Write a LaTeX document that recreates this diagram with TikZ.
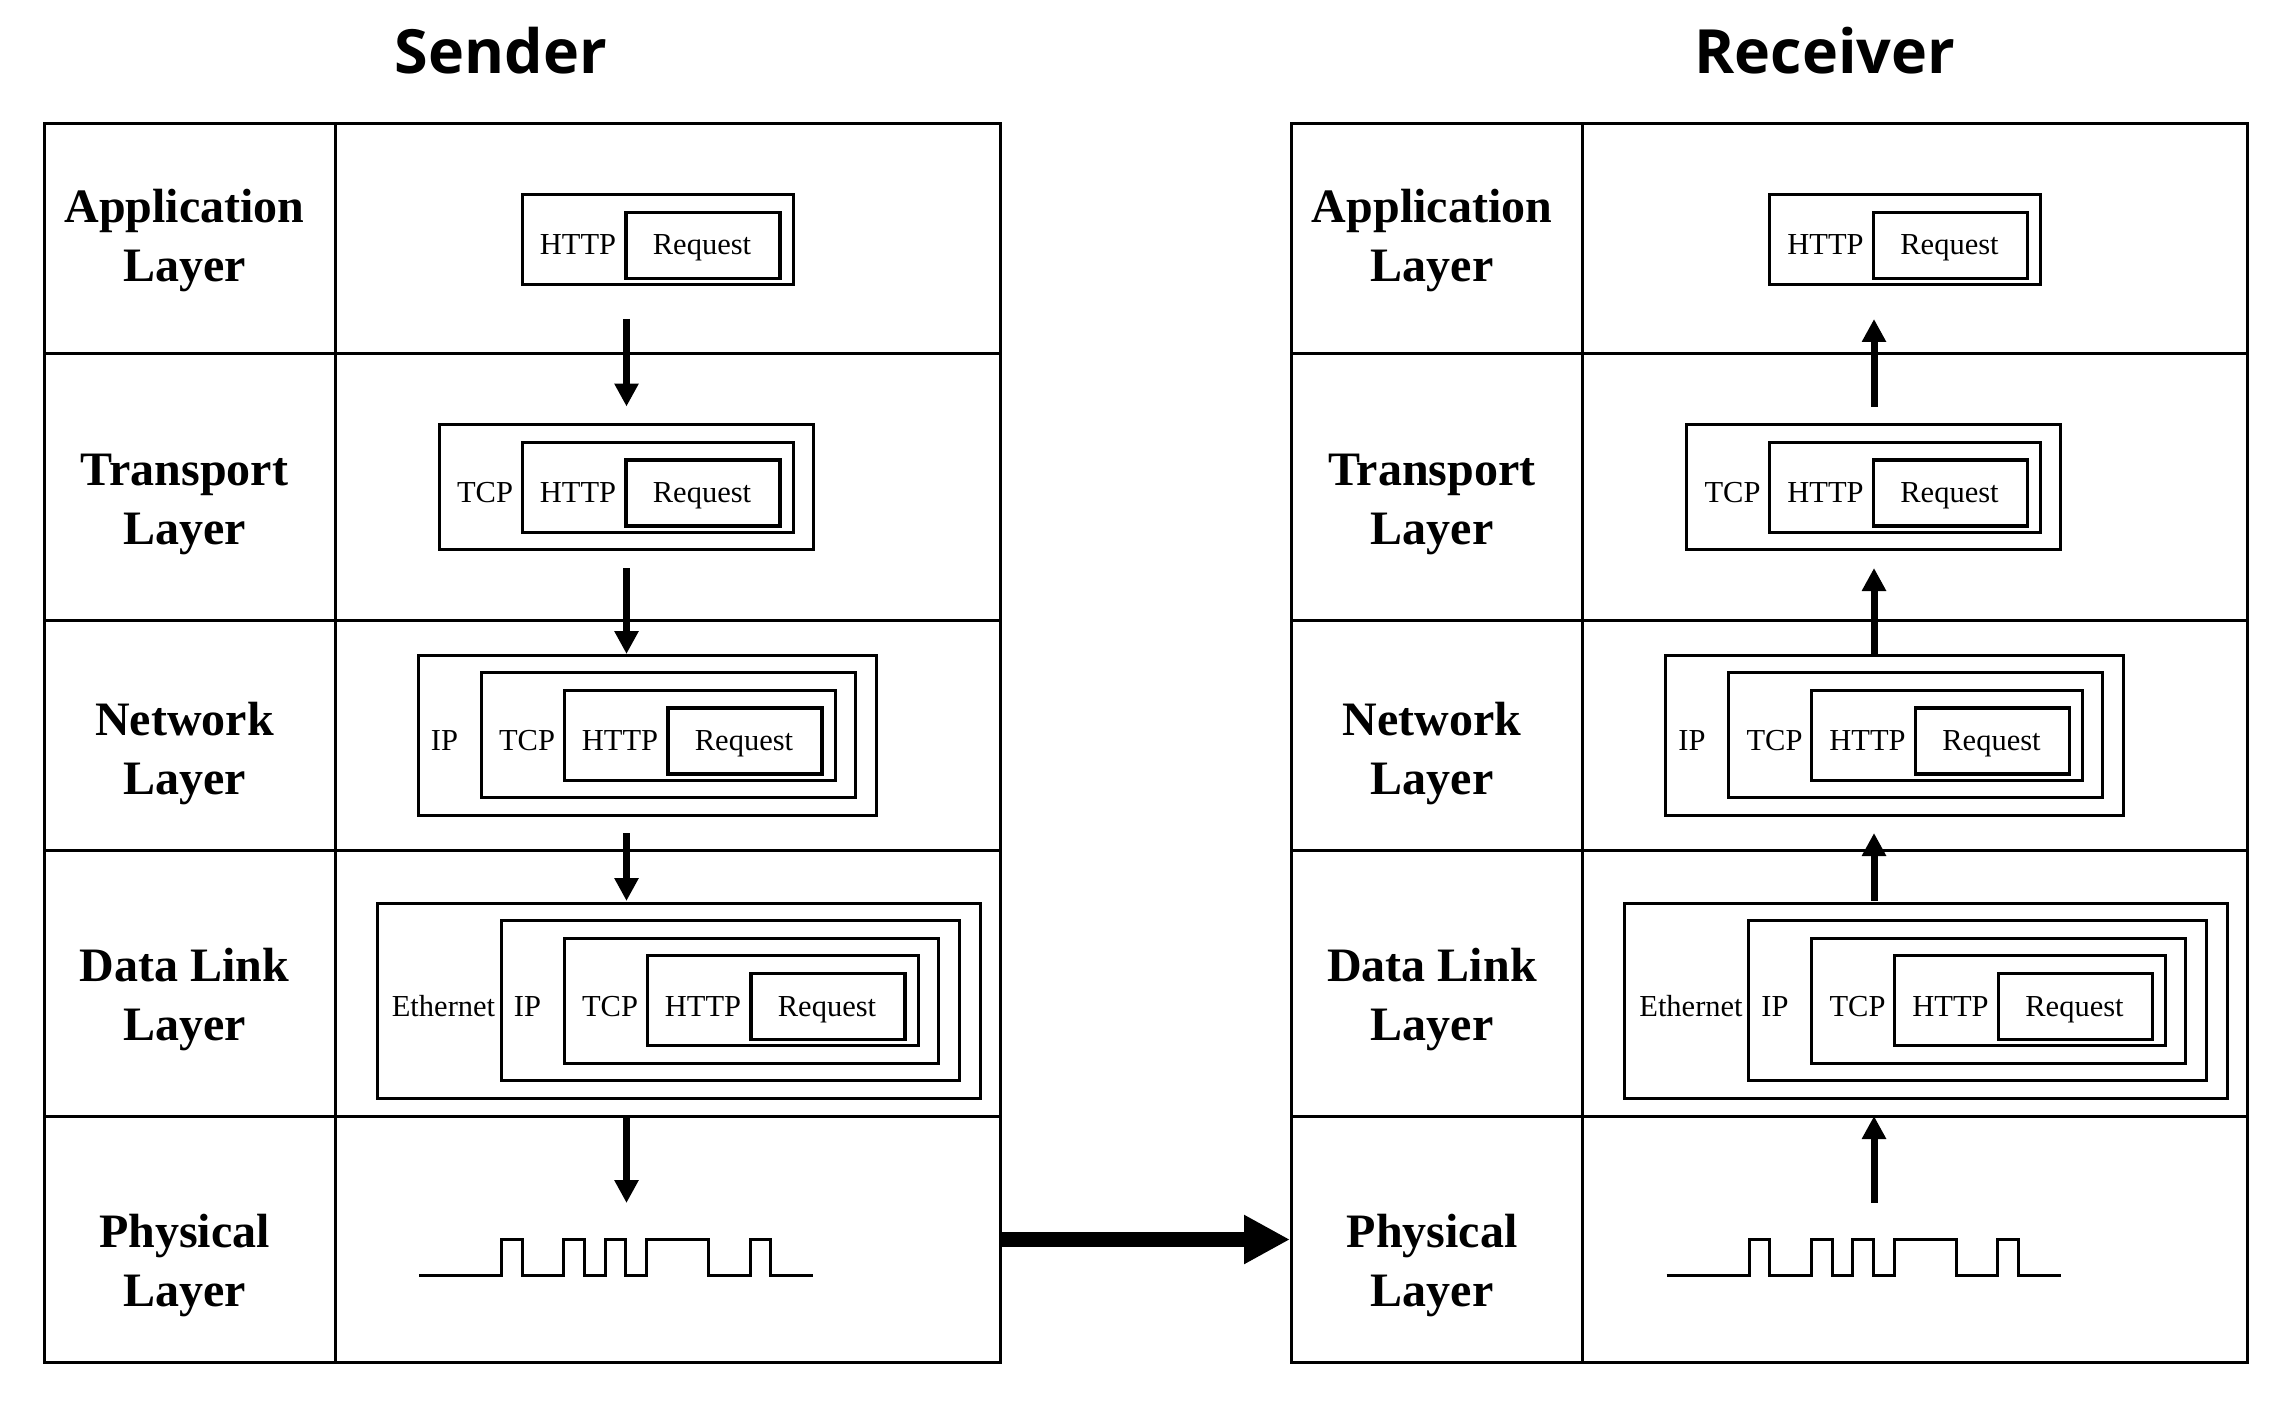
\documentclass[tikz,border=0pt]{standalone}
\usepackage{fontspec}
\setmainfont{Liberation Serif}
\newfontfamily\titlefont{Open Sans}
\usetikzlibrary{arrows.meta}

\tikzset{
  tbl/.style={line width=3pt},
  pbox/.style={draw, line width=3pt},
  rbox/.style={draw, line width=3.8pt},
  plabel/.style={font=\fontsize{30.5pt}{36pt}\selectfont, anchor=base, inner sep=0pt},
  llabel/.style={font=\fontsize{48pt}{59pt}\selectfont\bfseries, align=center, inner sep=0pt},
  ttl/.style={font=\titlefont\fontsize{61pt}{72pt}\selectfont\bfseries, anchor=base, inner sep=0pt},
  flowdown/.style={line width=7pt, -{Triangle[length=23pt,width=23pt]}},
  flowup/.style={line width=7pt, {Triangle[length=23pt,width=23pt]}-},
  bigflow/.style={line width=15.7pt, -{Triangle[length=46pt,width=46pt]}},
  wave/.style={line width=3pt},
}

% #1 = Request box left, #2 = row centre
\newcommand\httpbox[2]{%
  \draw[pbox] (#1-104,#2-45) rectangle (#1+167,#2+45);
  \draw[rbox] (#1,#2-27) rectangle (#1+154,#2+39);}
\newcommand\tcpbox[2]{\draw[pbox] (#1-187,#2-62.5) rectangle (#1+187,#2+62.5);}
\newcommand\ipbox[2]{\draw[pbox] (#1-250,#2-80) rectangle (#1+208,#2+80);}
\newcommand\ethbox[2]{\draw[pbox] (#1-374,#2-97.5) rectangle (#1+229,#2+97.5);}

% one side: #1 = arrow style, #2 = title x (local), #3 = title text
\newcommand\stackside[3]{%
  % title
  \node[ttl] (title) at (#2,73.5) {#3};
  % table
  \draw[tbl] (44,124) rectangle (1000,1362);
  \draw[tbl] (335,124) -- (335,1362);
  \foreach \yy in {354,620,850,1116} \draw[tbl] (44,\yy) -- (1000,\yy);
  % layer names
  \node[llabel] (app)  at (184.5,240.5)  {Application\\Layer};
  \node[llabel] (tra)  at (184.5,504.5)  {Transport\\Layer};
  \node[llabel] (net)  at (184.5,753.5) {Network\\Layer};
  \node[llabel] (dl)   at (184.5,999.5)  {Data Link\\Layer};
  \node[llabel] (phy)  at (184.5,1265.5) {Physical\\Layer};
  % application row
  \httpbox{626}{239.5}
  \node[plabel] (a-http) at (626-48,255) {HTTP};
  \node[plabel] (a-req)  at (626+76,255) {Request};
  % transport row
  \tcpbox{626}{487}\httpbox{626}{487}
  \node[plabel] (t-tcp)  at (626-141,502.5) {TCP};
  \node[plabel] (t-http) at (626-48,502.5) {HTTP};
  \node[plabel] (t-req)  at (626+76,502.5) {Request};
  % network row
  \ipbox{668}{735}\tcpbox{668}{735}\httpbox{668}{735}
  \node[plabel] (n-ip)   at (668-223.5,750.5) {IP};
  \node[plabel] (n-tcp)  at (668-141,750.5) {TCP};
  \node[plabel] (n-http) at (668-48,750.5) {HTTP};
  \node[plabel] (n-req)  at (668+76,750.5) {Request};
  % data link row
  \ethbox{751}{1000.5}\ipbox{751}{1000.5}\tcpbox{751}{1000.5}\httpbox{751}{1000.5}
  \node[plabel] (d-eth)  at (751-307.5,1016) {Ethernet};
  \node[plabel] (d-ip)   at (751-223.5,1016) {IP};
  \node[plabel] (d-tcp)  at (751-141,1016) {TCP};
  \node[plabel] (d-http) at (751-48,1016) {HTTP};
  \node[plabel] (d-req)  at (751+76,1016) {Request};
  % physical signal
  \draw[wave] (419,1275) -- (501.7,1275) -- (501.7,1239.5) -- (522.4,1239.5)
    -- (522.4,1275) -- (563.8,1275) -- (563.8,1239.5) -- (584.5,1239.5)
    -- (584.5,1275) -- (605.2,1275) -- (605.2,1239.5) -- (625.9,1239.5)
    -- (625.9,1275) -- (646.6,1275) -- (646.6,1239.5) -- (708.7,1239.5)
    -- (708.7,1275) -- (750.1,1275) -- (750.1,1239.5) -- (770.8,1239.5)
    -- (770.8,1275) -- (813,1275);
  % arrows between layers
  \coordinate (f1a) at (626.5,319);   \coordinate (f1b) at (626.5,406.5);
  \coordinate (f2a) at (626.5,568);   \coordinate (f2b) at (626.5,654);
  \coordinate (f3a) at (626.5,833);   \coordinate (f3b) at (626.5,901);
  \coordinate (f4a) at (626.5,1116);  \coordinate (f4b) at (626.5,1203);
  \draw[#1] (f1a) -- (f1b);
  \draw[#1] (f2a) -- (f2b);
  \draw[#1] (f3a) -- (f3b);
  \draw[#1] (f4a) -- (f4b);
  \coordinate (outR) at (1001.5,1239.5);
  \coordinate (inL)  at (42.5,1239.5);
}

\begin{document}
\begin{tikzpicture}[x=1pt,y=-1pt]
\useasboundingbox[fill=white] (0,0) rectangle (2296,1404);
\begin{scope}[name prefix=s-]
  \stackside{flowdown}{501}{Sender}
\end{scope}
\begin{scope}[xshift=1247.5pt, name prefix=r-]
  \stackside{flowup}{577.5}{Receiver}
\end{scope}
\draw[bigflow] (s-outR) -- (r-inL);
\end{tikzpicture}
\end{document}
